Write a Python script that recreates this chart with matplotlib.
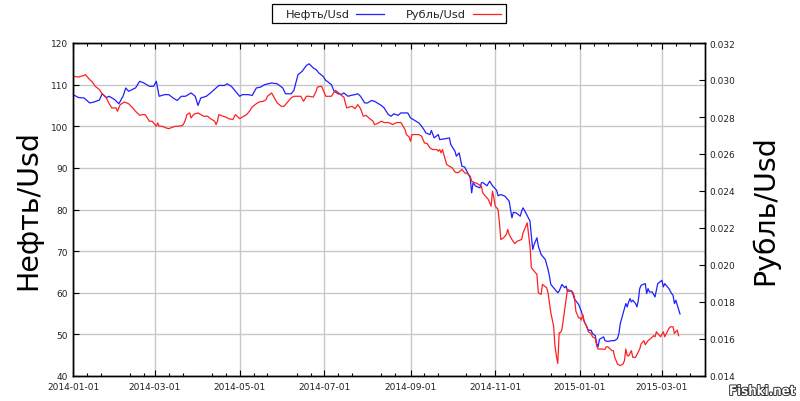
import matplotlib
matplotlib.use("Agg")
import matplotlib.pyplot as plt
import matplotlib.dates as mdates
import matplotlib.patheffects as pe
from matplotlib.lines import Line2D
from matplotlib.patches import Rectangle
from matplotlib.ticker import FormatStrFormatter, MultipleLocator
import pandas as pd

start = pd.Timestamp("2014-01-01")
end = pd.Timestamp("2015-04-01")

# days since 2014-01-01
oil_days = [0, 4, 8, 12, 15, 19, 21, 24, 26, 30,
            33, 36, 38, 40, 45, 48, 51, 55, 58, 60,
            62, 66, 69, 72, 75, 78, 81, 85, 88, 90,
            92, 96, 99, 103, 105, 109, 111, 114, 117, 120,
            122, 126, 129, 132, 135, 138, 143, 147, 151, 153,
            157, 159, 162, 165, 168, 170, 173, 175, 177, 180,
            182, 183, 186, 188, 191, 193, 195, 198, 200, 203,
            205, 207, 210, 212, 215, 217, 219, 222, 224, 227,
            229, 231, 234, 236, 241, 243, 245, 247, 249, 251,
            253, 254, 257, 258, 260, 263, 264, 268, 271, 272,
            275, 276, 278, 280, 282, 284, 286, 287, 288, 290,
            293, 294, 295, 298, 300, 302, 305, 306, 308, 311,
            313, 314, 315, 316, 317, 319, 322, 323, 324, 326,
            329, 330, 331, 332, 334, 335, 337, 340, 342, 343,
            344, 347, 349, 350, 352, 354, 355, 356, 359, 360,
            361, 364, 366, 368, 371, 373, 374, 376, 377, 378,
            379, 382, 383, 385, 388, 390, 392, 393, 394, 395,
            396, 397, 398, 399, 400, 401, 402, 403, 405, 406,
            407, 408, 409, 412, 413, 414, 415, 417, 419, 420,
            421, 424, 425, 426, 429, 431, 432, 433, 434, 436,
            437]
oil = [107.6, 106.9, 106.8, 105.6, 105.8, 106.3, 107.8, 106.9, 107.2, 106.4,
       105.4, 107.2, 109.2, 108.4, 109.2, 110.8, 110.4, 109.6, 109.6, 110.8,
       107.2, 107.6, 107.6, 106.8, 106.2, 107.2, 107.2, 108.0, 107.2, 105.0,
       106.8, 107.2, 108.0, 109.2, 109.8, 109.8, 110.2, 109.6, 108.4, 107.2,
       107.6, 107.6, 107.4, 109.2, 109.4, 110.0, 110.4, 110.2, 109.2, 107.8,
       107.8, 108.6, 112.4, 113.2, 114.6, 115.0, 114.0, 113.6, 112.8, 112.0,
       111.0, 110.8, 110.0, 108.4, 107.8, 107.6, 108.0, 107.2, 107.4, 107.6,
       107.8, 107.2, 105.6, 105.6, 106.2, 106.0, 105.6, 105.0, 104.4, 102.8,
       102.4, 103.0, 102.6, 103.2, 103.2, 102.0, 101.6, 101.2, 100.8, 100.0,
       99.0, 98.4, 98.0, 99.0, 97.2, 98.0, 96.8, 97.0, 97.2, 95.6,
       94.0, 92.8, 93.6, 90.4, 90.2, 88.9, 87.6, 84.0, 86.4, 85.6,
       85.2, 86.4, 86.5, 85.7, 86.8, 85.7, 84.6, 83.3, 83.6, 83.2,
       82.4, 82.0, 80.0, 78.0, 79.3, 79.2, 78.4, 79.6, 80.4, 79.2,
       77.2, 73.6, 70.4, 71.6, 73.2, 71.2, 69.2, 68.0, 65.6, 64.0,
       62.0, 60.8, 60.0, 60.4, 62.0, 61.2, 61.6, 60.4, 60.4, 59.6,
       58.5, 57.2, 55.5, 53.2, 51.0, 51.0, 50.2, 49.7, 47.8, 47.0,
       48.8, 49.4, 48.5, 48.3, 48.5, 48.5, 49.0, 50.2, 52.6, 53.8,
       55.0, 56.2, 57.4, 56.6, 57.8, 58.6, 57.8, 58.2, 57.4, 56.6,
       58.2, 61.0, 61.8, 62.2, 59.8, 61.0, 60.2, 60.2, 59.0, 60.6,
       62.2, 63.0, 61.4, 62.2, 61.0, 59.8, 59.4, 57.4, 58.2, 56.0,
       54.9]

rub_days = [0, 4, 8, 9, 12, 14, 16, 19, 21, 24,
            26, 28, 31, 32, 34, 37, 40, 43, 45, 48,
            50, 52, 55, 57, 60, 61, 62, 64, 67, 69,
            72, 74, 76, 79, 80, 81, 82, 84, 85, 87,
            90, 92, 94, 97, 99, 102, 103, 104, 105, 108,
            110, 112, 115, 117, 120, 122, 125, 127, 129, 132,
            134, 137, 139, 140, 143, 145, 147, 150, 152, 155,
            157, 159, 164, 166, 168, 170, 173, 175, 176, 179,
            181, 182, 183, 186, 188, 189, 192, 194, 195, 197,
            199, 201, 203, 205, 207, 209, 211, 213, 216, 217,
            219, 222, 224, 227, 229, 230, 233, 236, 237, 239,
            240, 242, 243, 244, 247, 249, 251, 252, 253, 255,
            257, 259, 262, 263, 264, 265, 266, 268, 269, 271,
            273, 275, 277, 280, 282, 284, 286, 287, 289, 291,
            294, 295, 297, 299, 300, 301, 302, 303, 304, 306,
            307, 308, 310, 312, 313, 314, 316, 318, 320, 323,
            324, 325, 327, 329, 330, 332, 334, 335, 337, 338,
            341, 342, 343, 344, 346, 347, 348, 349, 350, 351,
            352, 353, 354, 355, 356, 359, 360, 361, 362, 364,
            365, 366, 367, 368, 370, 371, 373, 374, 376, 377,
            378, 380, 383, 384, 385, 388, 389, 390, 391, 392,
            394, 396, 397, 398, 399, 400, 402, 403, 405, 408,
            409, 411, 412, 414, 416, 418, 419, 420, 423, 425,
            426, 429, 430, 432, 433, 435, 436]
rub = [0.03020, 0.03016, 0.03025, 0.03029, 0.03002, 0.02989, 0.02966, 0.02948, 0.02926, 0.02903,
       0.02872, 0.02849, 0.02849, 0.02831, 0.02867, 0.02881, 0.02872, 0.02849, 0.02831, 0.02809,
       0.02813, 0.02813, 0.02777, 0.02777, 0.02750, 0.02768, 0.02750, 0.02750, 0.02741, 0.02737,
       0.02746, 0.02750, 0.02750, 0.02755, 0.02768, 0.02786, 0.02813, 0.02822, 0.02795, 0.02815,
       0.02822, 0.02813, 0.02804, 0.02804, 0.02791, 0.02777, 0.02759, 0.02777, 0.02813, 0.02804,
       0.02800, 0.02791, 0.02786, 0.02813, 0.02791, 0.02800, 0.02813, 0.02831, 0.02854, 0.02872,
       0.02881, 0.02885, 0.02894, 0.02912, 0.02930, 0.02903, 0.02876, 0.02858, 0.02858, 0.02885,
       0.02903, 0.02912, 0.02912, 0.02885, 0.02912, 0.02912, 0.02908, 0.02939, 0.02962, 0.02966,
       0.02930, 0.02912, 0.02912, 0.02912, 0.02935, 0.02944, 0.02926, 0.02912, 0.02908, 0.02849,
       0.02854, 0.02858, 0.02845, 0.02867, 0.02845, 0.02804, 0.02809, 0.02795, 0.02777, 0.02759,
       0.02764, 0.02777, 0.02770, 0.02770, 0.02764, 0.02759, 0.02770, 0.02770, 0.02759, 0.02732,
       0.02705, 0.02692, 0.02669, 0.02705, 0.02705, 0.02705, 0.02696, 0.02678, 0.02660, 0.02656,
       0.02633, 0.02624, 0.02624, 0.02615, 0.02624, 0.02606, 0.02624, 0.02570, 0.02543, 0.02534,
       0.02525, 0.02503, 0.02498, 0.02516, 0.02498, 0.02494, 0.02480, 0.02453, 0.02446, 0.02440,
       0.02426, 0.02390, 0.02372, 0.02354, 0.02336, 0.02318, 0.02399, 0.02363, 0.02318, 0.02300,
       0.02228, 0.02138, 0.02147, 0.02165, 0.02192, 0.02165, 0.02138, 0.02116, 0.02129, 0.02138,
       0.02174, 0.02192, 0.02228, 0.02102, 0.01985, 0.01967, 0.01949, 0.01850, 0.01841, 0.01895,
       0.01877, 0.01850, 0.01796, 0.01742, 0.01670, 0.01562, 0.01508, 0.01468, 0.01634, 0.01634,
       0.01652, 0.01706, 0.01760, 0.01814, 0.01868, 0.01859, 0.01850, 0.01828, 0.01751, 0.01715,
       0.01715, 0.01702, 0.01733, 0.01693, 0.01666, 0.01639, 0.01630, 0.01612, 0.01603, 0.01564,
       0.01546, 0.01546, 0.01544, 0.01558, 0.01558, 0.01537, 0.01537, 0.01501, 0.01483, 0.01465,
       0.01456, 0.01465, 0.01483, 0.01546, 0.01510, 0.01508, 0.01537, 0.01501, 0.01501, 0.01546,
       0.01573, 0.01591, 0.01569, 0.01591, 0.01603, 0.01618, 0.01612, 0.01639, 0.01612, 0.01639,
       0.01612, 0.01657, 0.01666, 0.01666, 0.01630, 0.01648, 0.01618]

oil_label = "Нефть/Usd"
rub_label = "Рубль/Usd"
oil_color = "#1f1fff"
rub_color = "#ff2020"

oil_dates = start + pd.to_timedelta(oil_days, unit="D")
rub_dates = start + pd.to_timedelta(rub_days, unit="D")

W, H = 800, 402
fig = plt.figure(figsize=(W / 100, H / 100), dpi=100)
ax1 = fig.add_axes([73 / W, 1 - 377 / H, 632 / W, 333 / H])
ax2 = ax1.twinx()

ax1.plot(oil_dates, oil, color=oil_color, lw=0.9)
ax2.plot(rub_dates, rub, color=rub_color, lw=0.9)

ax1.set_xlim(start, end)
ax1.set_ylim(40, 120)
ax2.set_ylim(0.014, 0.032)

ax1.yaxis.set_major_locator(MultipleLocator(10))
ax2.yaxis.set_major_locator(MultipleLocator(0.002))
ax2.yaxis.set_major_formatter(FormatStrFormatter("%.3f"))
ax1.xaxis.set_major_locator(mdates.MonthLocator(bymonth=[1, 3, 5, 7, 9, 11]))
ax1.xaxis.set_minor_locator(mdates.DayLocator(bymonthday=[11, 21]))
ax1.xaxis.set_major_formatter(mdates.DateFormatter("%Y-%m-%d"))

ax1.grid(True, color="#c8c8c8", lw=1.0)
ax1.set_axisbelow(True)

tick_color = "#222222"
ax1.tick_params(axis="x", which="both", direction="in", top=True, bottom=True,
                labelsize=6.5, labelcolor=tick_color, pad=4)
ax1.tick_params(axis="x", which="major", length=4, width=0.8)
ax1.tick_params(axis="x", which="minor", length=2.5, width=0.8)
ax1.tick_params(axis="y", direction="in", length=4, width=0.8, right=False,
                labelsize=6.5, labelcolor=tick_color, pad=3.5)
ax2.tick_params(axis="y", direction="in", length=4, width=0.8,
                labelsize=6.5, labelcolor=tick_color, pad=3.5)

for ax in (ax1, ax2):
    for s in ax.spines.values():
        s.set_color("black")
        s.set_linewidth(1.0)

fig.text(28 / W, 1 - 210 / H, oil_label, rotation=90, ha="center", va="center",
         fontsize=20.5)
fig.text(765 / W, 1 - 210 / H, rub_label, rotation=90, ha="center", va="center",
         fontsize=20.5)

# legend box drawn by hand: label text first, then the line sample
def px(x, y):
    return x / W, 1 - y / H

x0, y0 = px(272, 24)
fig.patches.append(Rectangle((x0, y0), 234 / W, 19 / H, transform=fig.transFigure,
                             facecolor="white", edgecolor="black", lw=0.9))
for label, color, text_end, line_start in [(oil_label, oil_color, 350, 356),
                                           (rub_label, rub_color, 466, 473)]:
    tx, ty = px(text_end, 15)
    fig.text(tx, ty, label, ha="right", va="center", fontsize=8.2, color="#222222")
    lx0, ly = px(line_start, 15)
    lx1, _ = px(line_start + 28, 15)
    fig.lines.append(Line2D([lx0, lx1], [ly, ly], transform=fig.transFigure,
                            color=color, lw=0.9))

fig.text(796 / W, 1 - 396 / H, "Fishki.net", ha="right", va="baseline",
         fontsize=9.5, fontweight="bold", fontstretch="condensed", color="white",
         family="DejaVu Sans",
         path_effects=[pe.withStroke(linewidth=1.3, foreground="#2a2a2a")])

fig.savefig("out.png", dpi=100)
